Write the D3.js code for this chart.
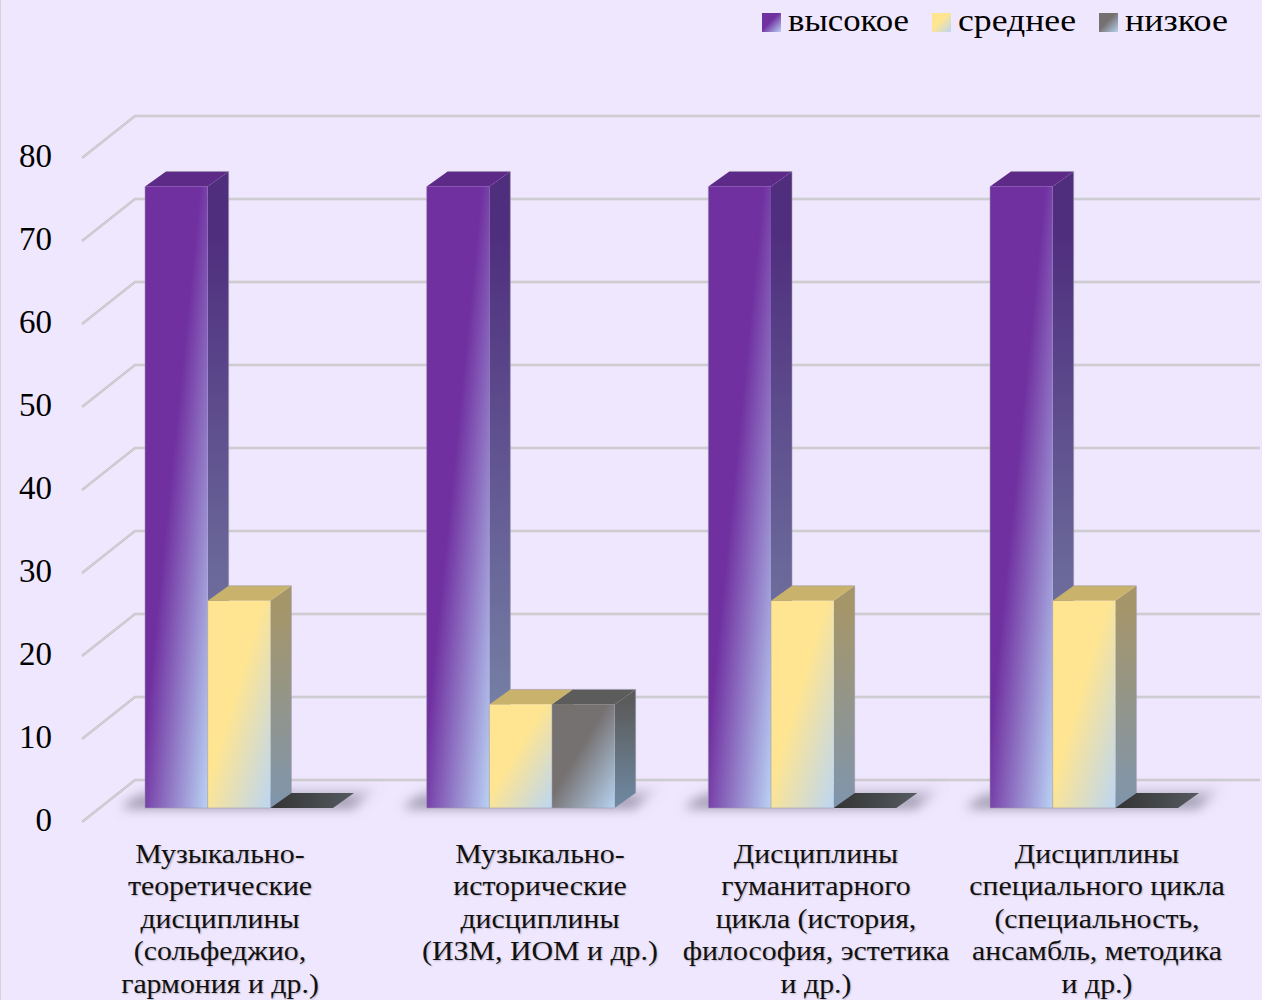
<!DOCTYPE html>
<html><head><meta charset="utf-8">
<script src="https://cdn.jsdelivr.net/npm/d3@7/dist/d3.min.js"></script>
<style>html,body{margin:0;padding:0;background:#efe7fd;overflow:hidden}svg{display:block}
text{font-family:"Liberation Serif",serif;fill:#000}
.cat{fill:#111;text-shadow:1px 1px 1.5px rgba(0,0,0,.22)}</style></head><body>
<script>
const categories=[
 ["Музыкально-","теоретические","дисциплины","(сольфеджио,","гармония и др.)"],
 ["Музыкально-","исторические","дисциплины","(ИЗМ, ИОМ и др.)"],
 ["Дисциплины","гуманитарного","цикла (история,","философия, эстетика","и др.)"],
 ["Дисциплины","специального цикла","(специальность,","ансамбль, методика","и др.)"]];
const seriesNames=["высокое","среднее","низкое"];
const high=[75,75,75,75];
const medium=[25,12.5,25,25];
const low=[0,12.5,0,0];
const yTicks=[0,10,20,30,40,50,60,70,80];

const W=1262,H=1000,depthX=21,depthY=15;
const series=[high,medium,low];
const svg=d3.select("body").append("svg").attr("width",W).attr("height",H);
const defs=svg.append("defs");
const styles=[
 {front:"#7030a0",end:"#b9d2f4",top:"#5e2a88",sideA:"#4f2e7e",sideB:"#7d90ad"},
 {front:"#ffe591",end:"#bcd6f2",top:"#c9b26c",sideA:"#a5966a",sideB:"#7f95ad"},
 {front:"#767171",end:"#b6d2f0",top:"#5c5c5c",sideA:"#5b5b5b",sideB:"#6f8aa3"}];
styles.forEach((s,i)=>{
 const g=defs.append("linearGradient").attr("id","f"+i).attr("x1",0).attr("y1",0).attr("x2",1).attr("y2",1);
 g.append("stop").attr("offset",.44).attr("stop-color",s.front);
 g.append("stop").attr("offset",1).attr("stop-color",s.end);
 const h=defs.append("linearGradient").attr("id","s"+i).attr("x1",0).attr("y1",0).attr("x2",0).attr("y2",1);
 h.append("stop").attr("offset",.1).attr("stop-color",s.sideA);
 h.append("stop").attr("offset",1).attr("stop-color",s.sideB);
});
const fl=defs.append("filter").attr("id","blur").attr("x","-30%").attr("y","-100%").attr("width","160%").attr("height","300%");
fl.append("feGaussianBlur").attr("stdDeviation",6);
const sh=defs.append("linearGradient").attr("id","floor").attr("x1",0).attr("y1",0).attr("x2",0).attr("y2",1);
sh.append("stop").attr("offset",0).attr("stop-color","#8d88a0").attr("stop-opacity",0);
sh.append("stop").attr("offset",1).attr("stop-color","#77738a").attr("stop-opacity",.95);

const yBack=d3.scaleLinear().domain([0,80]).range([780,116]);
const yFront=d3.scaleLinear().domain([0,80]).range([808,145]);
const yWall=d3.scaleLinear().domain([0,80]).range([822,158]);
const x0=d3.scaleLinear().domain([0,3]).range([145,990]);
const x1=d3.scaleBand().domain([0,1,2]).range([0,188]);

svg.append("line").attr("x1",.5).attr("x2",.5).attr("y1",0).attr("y2",H).attr("stroke","#d4d1da");

// legend
const legendX=[762,932,1099],legendW=[121,118,103];
seriesNames.forEach((n,i)=>{
 svg.append("rect").attr("x",legendX[i]).attr("y",13).attr("width",19).attr("height",19).attr("fill",`url(#f${i})`);
 svg.append("text").attr("x",legendX[i]+26).attr("y",31).attr("font-size",32)
  .attr("textLength",legendW[i]).attr("lengthAdjust","spacingAndGlyphs").text(n);
});

// grid and wall
yTicks.forEach(t=>{
 const p=`M${82},${yWall(t)}L135,${yBack(t)}L1260,${yBack(t)}`;
 svg.append("path").attr("d",p).attr("fill","none").attr("stroke","#c4c3c8").attr("stroke-width",2.4);
 svg.append("path").attr("d",p).attr("fill","none").attr("stroke","#dedce2").attr("stroke-width",.7);
 svg.append("text").attr("x",52).attr("y",yWall(t)+9).attr("text-anchor","end").attr("font-size",33).text(t);
});

// floor shadows
categories.forEach((c,k)=>{
 const x=x0(k);
 svg.append("path").attr("d",`M${x-24},808L${x+4},786H${x+236}L${x+208},808Z`)
  .attr("fill","url(#floor)").attr("filter","url(#blur)");
});

// bars
categories.forEach((c,k)=>{
 series.forEach((vals,i)=>{
  const v=vals[k],x=x0(k)+x1(i),w=x1.bandwidth(),yT=yFront(v),yB=yFront(0);
  const g=svg.append("g");
  if(v>0){
   g.append("path").attr("d",`M${x+w},${yT}l${depthX},${-depthY}V${yB-depthY}L${x+w},${yB}Z`)
    .attr("fill",`url(#s${i})`);
   g.append("path").attr("d",`M${x},${yT}l${depthX},${-depthY}h${w}l${-depthX},${depthY}Z`)
    .attr("fill",styles[i].top);
   g.append("rect").attr("x",x).attr("y",yT).attr("width",w).attr("height",yB-yT).attr("fill",`url(#f${i})`);
   g.append("path").attr("d",`M${x},${yT}V${yB}H${x+w}`).attr("fill","none").attr("stroke","#9d99ab").attr("stroke-opacity",.55);
   g.append("path").attr("d",`M${x+depthX},${yT-depthY}h${w}V${yB-depthY}`).attr("fill","none").attr("stroke","#9d99ab").attr("stroke-opacity",.6);
  } else {
   const h=defs.append("linearGradient").attr("id",`z${k}`);
   h.append("stop").attr("offset",0).attr("stop-color","#333");
   h.append("stop").attr("offset",1).attr("stop-color","#555b60");
   g.append("path").attr("d",`M${x},${yB}l${depthX},${-depthY}h${w}l${-depthX},${depthY}Z`).attr("fill",`url(#z${k})`);
  }
 });
});

// category labels
const labelCenters=[220,540,816,1097];
categories.forEach((c,k)=>{
 c.forEach((line,j)=>{
  const t=svg.append("text").attr("class","cat").attr("x",labelCenters[k]).attr("y",863+j*32.4).attr("text-anchor","middle")
   .attr("font-size",28).text(line);
  t.attr("textLength",t.node().getComputedTextLength()*1.065).attr("lengthAdjust","spacingAndGlyphs");
 });
});
</script></body></html>
